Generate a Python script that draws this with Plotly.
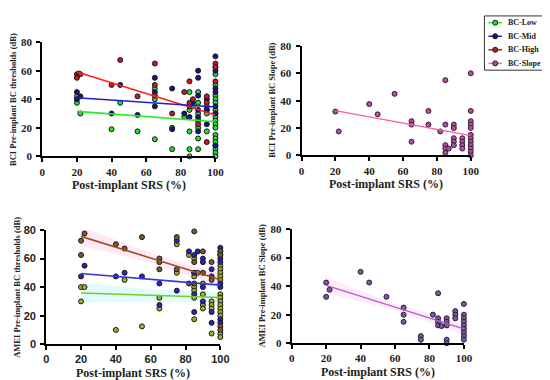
import plotly.graph_objects as go

# ---------------- DATA ----------------
# BCI thresholds (top-left)
bci_low_x = [20, 20, 22, 40, 45, 55, 65, 65, 65, 75, 75, 82, 85, 85, 85, 85, 85, 87,
             90, 90, 90, 90, 90, 90, 95, 95, 95, 95,
             100, 100, 100, 100, 100, 100, 100, 100, 100, 100, 100, 100, 100, 100, 100, 100, 100, 100]
bci_low_y = [42, 37.5, 30, 19, 37.5, 17.5, 47.5, 40, 12, 20, 5, 27.5, 45, 32.5, 17.5, 5, 0, 35,
             45, 37.5, 30, 20, 12.5, 5, 35, 30, 17.5, 32.5,
             57.5, 50, 42.5, 40, 37.5, 32.5, 30, 27.5, 25, 22.5, 20, 15, 12.5, 10, 7.5, 5, 2.5, 0]
bci_mid_x = [20, 20, 22, 40, 45, 55, 65, 65, 65, 75, 75, 82, 85, 85, 87,
             90, 90, 90, 90, 90, 90, 95, 95, 95, 100, 100, 100, 100, 100, 100, 100, 100]
bci_mid_y = [45, 40, 42, 30, 50, 29, 55, 45, 35, 47.5, 19, 30, 35, 27.5, 37.5,
             60, 55, 42.5, 32.5, 27.5, 17.5, 40, 32.5, 22.5, 70, 62.5, 60, 47.5, 45, 35, 30, 7.5]
bci_high_x = [20, 20, 21, 22, 40, 45, 55, 65, 65, 65, 75, 82, 85, 85, 87, 90, 90, 95, 95, 95, 100, 100, 100]
bci_high_y = [57.5, 55, 58, 57.5, 50, 67.5, 42, 65, 50, 42.5, 30, 45, 52.5, 37.5, 40, 25, 22.5, 42, 37.5, 10, 65, 62.5, 52.5]
bci_fit_x = [20, 100]
bci_low_fit = [31.5, 24.2]
bci_mid_fit = [41, 34.5]
bci_high_fit = [59, 29]

# BCI slope (top-right)
bci_slope_x = [20, 22, 40, 45, 55, 65, 65, 65, 75, 75, 82, 85, 85, 85, 85, 85, 87,
               90, 90, 90, 90, 90, 95, 95, 95, 95,
               100, 100, 100, 100, 100, 100, 100, 100, 100, 100, 100, 100]
bci_slope_y = [32, 17.5, 37.5, 30, 45, 25, 22.5, 10, 32.5, 22.5, 17.5, 55, 22.5, 7.5, 5, 2, 5,
               22.5, 20, 12.5, 10, 7.5, 12.5, 10, 7.5, 5,
               60, 32.5, 25, 22.5, 20, 15, 12.5, 10, 7.5, 5, 2.5, 0]
bci_slope_fit = [32.7, 14.4]

# AMEI thresholds (bottom-left)
amei_low_x = [20, 20, 22, 40, 45, 55, 65, 65, 75, 75, 82, 85, 85, 85, 85, 85, 85, 85, 87,
              90, 90, 90, 90, 95, 95, 95, 95,
              100, 100, 100, 100, 100, 100, 100, 100, 100, 100, 100, 100, 100, 100]
amei_low_y = [40, 30, 40, 10, 45, 12.5, 32.5, 25, 70, 50, 62.5, 60, 50, 47.5, 40, 37.5, 32.5, 17.5, 50,
              42.5, 35, 27.5, 25, 30, 27.5, 25, 7.5,
              55, 52.5, 50, 47.5, 45, 35, 32.5, 30, 27.5, 25, 22.5, 20, 7.5, 5]
amei_mid_x = [20, 22, 40, 45, 55, 65, 65, 75, 75, 82, 85, 85, 85, 85, 87,
              90, 90, 90, 90, 95, 95, 95, 95, 100, 100, 100, 100, 100, 100, 100, 100, 100]
amei_mid_y = [47.5, 55, 47.5, 50, 47.5, 42.5, 27.5, 72.5, 37.5, 65, 62.5, 50, 35, 22.5, 65,
              60, 57.5, 40, 30, 52.5, 47.5, 22.5, 15, 67.5, 65, 62.5, 60, 57.5, 42.5, 40, 17.5, 15]
amei_high_x = [20, 20, 22, 40, 45, 55, 65, 65, 65, 75, 75, 82, 85, 85, 85, 90, 90, 95, 95, 100, 100, 100, 100]
amei_high_y = [72.5, 62.5, 77.5, 70, 67, 75, 60, 57.5, 52.5, 75, 52.5, 42.5, 79, 57.5, 42.5, 65, 50, 57.5, 45, 65, 62.5, 12.5, 10]
amei_fit_x = [20, 60, 100]
amei_low_fit = [35.9, 34.3, 32.7]
amei_mid_fit = [49.5, 45.5, 41.4]
amei_high_fit = [75.5, 60.4, 45.2]
amei_high_ci_lo = [69, 57, 41]
amei_high_ci_hi = [82, 64, 49]
amei_low_ci_lo = [29, 30, 29.5]
amei_low_ci_hi = [43, 38.5, 36]

# AMEI slope (bottom-right)
amei_slope_x = [20, 20, 22, 40, 45, 55, 65, 65, 65, 75, 75, 82, 85, 85, 85, 85, 87,
                90, 90, 90, 90, 90, 95, 95, 95,
                100, 100, 100, 100, 100, 100, 100, 100, 100]
amei_slope_y = [42.5, 32.5, 37.5, 50, 42.5, 32.5, 25, 20, 15, 5, 2.5, 20, 35, 17.5, 15, 12.5, 12,
                17.5, 15, 12.5, 2.5, 0, 22.5, 20, 17.5,
                27.5, 20, 17.5, 15, 12.5, 10, 7.5, 5, 2.5]
amei_slope_fit_x = [20, 60, 100]
amei_slope_fit = [40.5, 25.2, 10]
amei_slope_ci_lo = [35, 23, 6]
amei_slope_ci_hi = [46, 27.5, 14]

legend_names = ["BC-Low", "BC-Mid", "BC-High", "BC-Slope"]

# ---------------- FIGURE ----------------
SERIF = "Liberation Serif, DejaVu Serif, serif"
SANS = "Liberation Sans, Arial, sans-serif"
fig = go.Figure()

def pts(x, y, fill, ax, edge="#1a1a1a"):
    fig.add_trace(go.Scatter(x=x, y=y, mode="markers", xaxis="x" + ax, yaxis="y" + ax,
                             marker=dict(size=5, color=fill, line=dict(color=edge, width=1)),
                             cliponaxis=False, showlegend=False, hoverinfo="skip"))

def fit(x, y, color, ax, width=1.6):
    fig.add_trace(go.Scatter(x=x, y=y, mode="lines", xaxis="x" + ax, yaxis="y" + ax,
                             line=dict(color=color, width=width), showlegend=False,
                             cliponaxis=False, hoverinfo="skip"))

def band(x, lo, hi, color, ax):
    fig.add_trace(go.Scatter(x=x, y=lo, mode="lines", xaxis="x" + ax, yaxis="y" + ax,
                             line=dict(width=0, color=color), showlegend=False, hoverinfo="skip"))
    fig.add_trace(go.Scatter(x=x, y=hi, mode="lines", xaxis="x" + ax, yaxis="y" + ax,
                             fill="tonexty", fillcolor=color,
                             line=dict(width=0, color=color), showlegend=False, hoverinfo="skip"))

# top-left
pts(bci_low_x, bci_low_y, "#22dd33", "")
pts(bci_mid_x, bci_mid_y, "#14148f", "")
pts(bci_high_x, bci_high_y, "#cc1525", "")
fit(bci_fit_x, bci_high_fit, "#ff2020", "")
fit(bci_fit_x, bci_mid_fit, "#2020d0", "")
fit(bci_fit_x, bci_low_fit, "#22ee22", "")

# top-right
pts(bci_slope_x, bci_slope_y, "#b0509a", "2", edge="#3a1a3a")
fit(bci_fit_x, bci_slope_fit, "#ff5c9a", "2", width=1.3)

# bottom-left
band(amei_fit_x, amei_high_ci_lo, amei_high_ci_hi, "rgba(255,205,240,0.45)", "3")
band(amei_fit_x, amei_low_ci_lo, amei_low_ci_hi, "rgba(200,250,250,0.55)", "3")
pts(amei_low_x, amei_low_y, "#9cb02a", "3")
pts(amei_mid_x, amei_mid_y, "#2a22c0", "3")
pts(amei_high_x, amei_high_y, "#7a5a32", "3")
fit(amei_fit_x, amei_high_fit, "#a0501e", "3")
fit(amei_fit_x, amei_mid_fit, "#3333e0", "3")
fit(amei_fit_x, amei_low_fit, "#77cc33", "3")

# bottom-right
band(amei_slope_fit_x, amei_slope_ci_lo, amei_slope_ci_hi, "rgba(255,210,245,0.45)", "4")
pts(amei_slope_x, amei_slope_y, "#7a5a9a", "4", edge="#2a1a3a")
fit(amei_slope_fit_x, amei_slope_fit, "#b458d8", "4", width=1.3)

W, H = 550, 380

def dom_x(p0, p1):
    return [p0 / W, p1 / W]

def dom_y(top, bottom):
    return [1 - bottom / H, 1 - top / H]

panels = {
    "": dict(x=(32, 209), y=(29, 147), tickfont=SERIF),
    "2": dict(x=(297, 470), y=(33, 146), tickfont=SERIF),
    "3": dict(x=(36, 214), y=(223, 341), tickfont=SANS),
    "4": dict(x=(287, 463), y=(222, 340), tickfont=SERIF),
}
ytitles = {
    "": "BCI Pre-implant BC thresholds (dB)",
    "2": "BCI Pre-implant BC Slope (dB)",
    "3": "AMEI Pre-implant BC thresholds (dB)",
    "4": "AMEI Pre-implant BC Slope (dB)",
}

layout = dict(width=W, height=H, margin=dict(l=0, r=0, t=0, b=0),
              paper_bgcolor="white", plot_bgcolor="white", showlegend=False)
annotations = []
for ax, p in panels.items():
    axis_common = dict(showline=True, linewidth=2, linecolor="black", ticks="outside",
                       ticklen=4, tickwidth=2, tickcolor="black", showgrid=False, zeroline=False,
                       tickfont=dict(family=p["tickfont"], size=11, color="#222", weight="bold"),
                       fixedrange=True)
    layout["xaxis" + ax] = dict(domain=dom_x(*p["x"]), range=[0, 100], dtick=20,
                                anchor="y" + ax, **axis_common)
    layout["yaxis" + ax] = dict(domain=dom_y(*p["y"]), range=[0, 80], dtick=20,
                                anchor="x" + ax, ticklabelstandoff=2, **axis_common)
    cx = (p["x"][0] + p["x"][1]) / 2 / W
    annotations.append(dict(text="Post-implant SRS (%)", xref="paper", yref="paper",
                            x=cx, y=1 - (p["y"][1] + 30) / H, xanchor="center", yanchor="middle",
                            showarrow=False,
                            font=dict(family=SERIF, size=12, color="#222", weight="bold")))
    cy = 1 - (p["y"][0] + p["y"][1]) / 2 / H
    annotations.append(dict(text=ytitles[ax], xref="paper", yref="paper", textangle=-90,
                            x=(p["x"][0] - 23) / W, y=cy, xanchor="right", yanchor="middle",
                            showarrow=False,
                            font=dict(family=SERIF, size=8.5, color="#222", weight="bold")))

# legend box drawn manually
leg_line_cols = ["#22ee22", "#2020c0", "#cc1a1a", "#ff6fa8"]
leg_mark_cols = ["#22dd33", "#14148f", "#cc1525", "#b0509a"]
shapes = [dict(type="rect", xref="paper", yref="paper", x0=484 / W, x1=549 / W,
               y0=1 - 58 / H, y1=1 - 2 / H, line=dict(color="#333", width=1))]
for i, name in enumerate(legend_names):
    yy = 1 - (9 + 14 * i) / H
    shapes.append(dict(type="line", xref="paper", yref="paper", x0=488 / W, x1=502 / W,
                       y0=yy, y1=yy, line=dict(color=leg_line_cols[i], width=1.5)))
    shapes.append(dict(type="circle", xref="paper", yref="paper", xsizemode="pixel",
                       ysizemode="pixel", xanchor=495 / W, yanchor=yy, x0=-2.5, x1=2.5,
                       y0=-2.5, y1=2.5, fillcolor=leg_mark_cols[i],
                       line=dict(color="#1a1a1a", width=1)))
    annotations.append(dict(text=name, xref="paper", yref="paper", x=506 / W, y=yy,
                            xanchor="left", yanchor="middle", showarrow=False,
                            font=dict(family=SERIF, size=8, color="#222", weight="bold")))

layout["annotations"] = annotations
layout["shapes"] = shapes
fig.update_layout(**layout)
fig.write_html("out.html")
